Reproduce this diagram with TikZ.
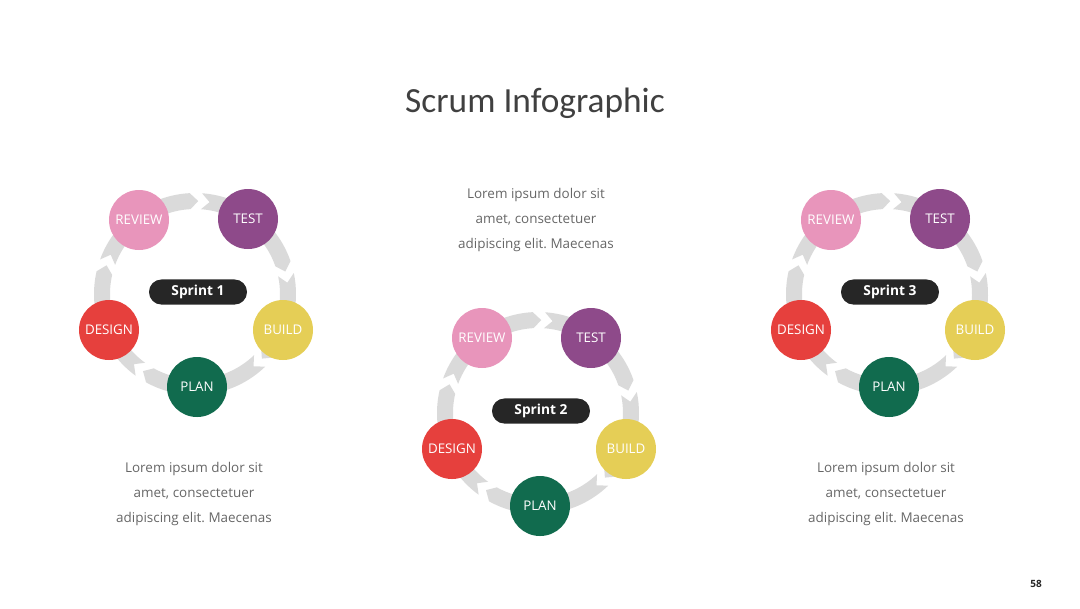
\documentclass[tikz,border=0pt]{standalone}
\usepackage{fontspec}
\setmainfont{Open Sans}
\newfontfamily\titlefont{Carlito}
\usetikzlibrary{positioning}
\frenchspacing

\definecolor{ringgray}{RGB}{218,218,218}
\definecolor{reviewpink}{RGB}{232,149,187}
\definecolor{testpurple}{RGB}{142,74,138}
\definecolor{buildyellow}{RGB}{229,206,86}
\definecolor{planteal}{RGB}{17,107,78}
\definecolor{designred}{RGB}{230,64,61}
\definecolor{pilldark}{RGB}{38,38,38}
\definecolor{bodygray}{RGB}{102,102,102}
\definecolor{titlegray}{RGB}{64,64,64}

\tikzset{every picture/.style={line width=0.75pt}}
\tikzset{
  stage/.style={circle,minimum size=45pt,inner sep=0pt,text=white,font=\fontsize{10}{11}\selectfont},
  sprintpill/.style={rounded corners=9.3pt,minimum width=73.5pt,minimum height=18.8pt,inner sep=0pt,fill=pilldark,text=white,font=\bfseries\fontsize{10.3}{12}\selectfont},
  bodytext/.style={align=center,text=bodygray,font=\fontsize{10.1}{18.4}\selectfont,inner sep=0.75pt}
}

% one grey chevron piece of a ring: centre x, centre y, from angle, to angle
\newcommand{\ringarc}[4]{%
  \fill[ringgray,shift={(#1,#2)}] ({#3+2}:101) arc[start angle=#3+2, end angle=#4-5, radius=101] -- ({#4}:93) -- ({#4-5}:85) arc[start angle=#4-5, end angle=#3+2, radius=85] -- ({#3+7}:93) -- cycle;}

\begin{document}
\begin{tikzpicture}[x=0.75pt,y=0.75pt,yscale=-1,xscale=1]
\path (0,0) rectangle (1080,608); %set diagram size

% Text Node
\node[text=titlegray,font=\titlefont\fontsize{26.5}{30}\selectfont] (title) at (535,103) {Scrum Infographic};

%Sprint 1 ring
\ringarc{195}{294}{-88}{-14}
\ringarc{195}{294}{-14}{44}
\ringarc{195}{294}{44}{124}
\ringarc{195}{294}{124}{198}
\ringarc{195}{294}{198}{272}
\node[stage,fill=reviewpink] (review1) at (139,220) {REVIEW};
\node[stage,fill=testpurple] (test1) at (248,219) {TEST};
\node[stage,fill=buildyellow] (build1) at (283,330) {BUILD};
\node[stage,fill=planteal] (plan1) at (197,387) {PLAN};
\node[stage,fill=designred] (design1) at (109,330) {DESIGN};
\node[sprintpill] (sprint1) at (198,292) {Sprint 1};

%Sprint 2 ring
\ringarc{538}{413}{-88}{-14}
\ringarc{538}{413}{-14}{44}
\ringarc{538}{413}{44}{124}
\ringarc{538}{413}{124}{198}
\ringarc{538}{413}{198}{272}
\node[stage,fill=reviewpink] (review2) at (482,338) {REVIEW};
\node[stage,fill=testpurple] (test2) at (591,338) {TEST};
\node[stage,fill=buildyellow] (build2) at (626,449) {BUILD};
\node[stage,fill=planteal] (plan2) at (540,506) {PLAN};
\node[stage,fill=designred] (design2) at (452,449) {DESIGN};
\node[sprintpill] (sprint2) at (541,411) {Sprint 2};

%Sprint 3 ring
\ringarc{887}{294}{-88}{-14}
\ringarc{887}{294}{-14}{44}
\ringarc{887}{294}{44}{124}
\ringarc{887}{294}{124}{198}
\ringarc{887}{294}{198}{272}
\node[stage,fill=reviewpink] (review3) at (831,220) {REVIEW};
\node[stage,fill=testpurple] (test3) at (940,219) {TEST};
\node[stage,fill=buildyellow] (build3) at (975,330) {BUILD};
\node[stage,fill=planteal] (plan3) at (889,387) {PLAN};
\node[stage,fill=designred] (design3) at (801,330) {DESIGN};
\node[sprintpill] (sprint3) at (890,292) {Sprint 3};

% Text Node
\node[bodytext] (note2) at (536,220) {Lorem ipsum dolor sit\\amet, consectetuer\\adipiscing elit. Maecenas};
% Text Node
\node[bodytext] (note1) at (194,494) {Lorem ipsum dolor sit\\amet, consectetuer\\adipiscing elit. Maecenas};
% Text Node
\node[bodytext] (note3) at (886,494) {Lorem ipsum dolor sit\\amet, consectetuer\\adipiscing elit. Maecenas};
% Text Node
\node[text=pilldark,font=\bfseries\fontsize{7.5}{9}\selectfont] (pagenum) at (1036,584) {58};

\end{tikzpicture}
\end{document}
